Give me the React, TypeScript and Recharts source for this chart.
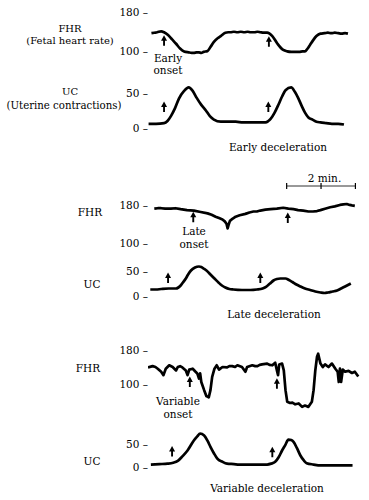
import React from 'react';
import { ComposedChart, Line, Scatter, XAxis, YAxis, ReferenceLine } from 'recharts';

type P = [number, number][];

// time (s) , value  — FHR in bpm, UC in mmHg
const fhrEarly: P = [[6,137],[11,138],[16,139],[23,141],[28,139],[35,133],[42,124],[49,115],[56,105],[63,99],[71,97],[76,96],[80,96],[85,97],[89,97],[93,96],[97,98],[104,100],[109,108],[115,119],[122,127],[127,131],[135,138],[140,139],[144,139],[150,140],[156,139],[162,140],[168,139],[174,140],[179,139],[186,139],[191,140],[196,139],[202,138],[208,138],[217,131],[226,115],[236,102],[243,99],[250,98],[257,98],[264,98],[270,99],[274,99],[278,104],[283,113],[288,122],[294,131],[301,136],[308,137],[314,138],[320,137],[326,138],[332,137],[338,136],[344,137],[349,136]];
const ucEarly: P = [[1,6],[14,6],[28,7],[34,10],[40,17],[47,28],[54,42],[63,53],[71,58],[78,53],[85,43],[93,33],[101,25],[108,17],[115,12],[127,9],[140,9],[153,9],[166,8],[179,8],[192,8],[205,8],[210,10],[214,13],[221,22],[228,34],[234,45],[240,54],[250,58],[256,52],[262,43],[268,32],[274,22],[280,15],[287,12],[294,9],[301,8],[311,7],[321,6],[332,6],[342,5]];
const fhrLate: P = [[11,173],[17,174],[23,174],[30,173],[40,173],[48,174],[57,172],[68,170],[80,169],[92,166],[104,163],[111,160],[118,156],[124,153],[130,150],[134,146],[137,141],[139,131],[141,140],[143,147],[148,152],[153,156],[160,159],[170,162],[177,165],[184,167],[190,167],[196,169],[205,171],[214,172],[225,173],[236,175],[245,173],[254,172],[262,170],[271,169],[280,167],[288,167],[295,168],[301,170],[309,173],[318,176],[326,178],[335,181],[341,182],[347,183],[352,181],[356,180],[361,179]];
const ucLate: P = [[4,13],[14,13],[23,14],[36,15],[49,15],[53,17],[57,21],[61,27],[66,35],[70,43],[75,51],[82,57],[89,59],[93,58],[97,55],[103,50],[109,43],[116,35],[123,27],[129,21],[135,17],[142,14],[149,13],[164,12],[179,12],[190,13],[200,15],[204,17],[208,20],[213,25],[219,31],[225,34],[231,35],[236,35],[240,35],[246,32],[252,28],[259,23],[266,19],[274,15],[283,12],[292,9],[301,7],[308,6],[314,7],[322,9],[330,11],[337,15],[344,19],[349,22],[354,25]];
const fhrVariable: P = [[0,140],[8,143],[13,141],[17,137],[23,130],[27,122],[31,137],[37,145],[43,141],[49,133],[52,141],[56,143],[60,140],[66,133],[69,122],[72,135],[78,137],[83,130],[86,126],[89,114],[91,126],[93,106],[98,87],[102,73],[106,70],[109,87],[112,118],[116,137],[120,145],[124,135],[130,141],[138,140],[142,143],[147,143],[152,141],[156,145],[164,141],[170,130],[173,141],[182,145],[187,143],[191,143],[195,146],[199,147],[208,149],[212,146],[217,145],[222,151],[225,133],[227,122],[229,147],[234,149],[237,133],[240,87],[243,60],[248,57],[252,58],[257,54],[263,56],[269,48],[274,51],[280,48],[286,60],[289,87],[292,133],[295,165],[297,172],[301,149],[305,141],[309,147],[315,141],[321,149],[327,137],[331,130],[333,106],[335,137],[337,106],[340,135],[344,130],[350,132],[356,127],[361,130],[367,119]];
const ucVariable: P = [[5,6],[20,7],[34,8],[44,10],[52,14],[60,24],[69,37],[80,59],[86,68],[91,74],[98,70],[104,58],[109,45],[115,31],[121,19],[130,12],[138,8],[150,7],[159,6],[180,6],[200,6],[208,6],[215,8],[222,12],[228,22],[234,37],[240,50],[245,61],[250,60],[254,56],[260,42],[266,26],[272,15],[277,9],[289,6],[301,4],[320,4],[340,4],[357,4]];

// onset arrows (time, value)
const arrowsEarlyFhr: P = [[28,121],[211,119]];
const arrowsEarlyUc: P = [[28,30],[210,30]];
const arrowsLateFhr: P = [[79,155],[244,153]];
const arrowsLateUc: P = [[35,36],[196,36]];
const arrowsVarFhr: P = [[73,106],[225,102]];
const arrowsVarUc: P = [[42,35],[217,33]];

const fhrTicks = [100, 180];
const ucTicks = [0, 50];
const scaleBarTicks = [242, 302, 362]; // 2 min = 120 s

const FONT = "'DejaVu Serif', serif";
const toRows = (p: P) => p.map(([t, v]) => ({ t, v }));

const Arrow = (props: any) => {
  const { cx, cy } = props;
  if (cx == null || cy == null) return null;
  return (
    <g>
      <line x1={cx} y1={cy + 5} x2={cx} y2={cy - 1.5} stroke="#000" strokeWidth={1.9} />
      <path d={`M${cx - 3},${cy} L${cx},${cy - 5.5} L${cx + 3},${cy} Z`} fill="#000" />
    </g>
  );
};

type TraceProps = {
  top: number;
  height: number;
  domain: [number, number];
  ticks: number[];
  series: P;
  arrows: P;
  curve: 'monotone' | 'linear';
};

function Trace({ top, height, domain, ticks, series, arrows, curve }: TraceProps) {
  return (
    <div style={{ position: 'absolute', left: 0, top, width: 369, height }}>
      <ComposedChart width={369} height={height} margin={{ top: 0, right: 9, bottom: 0, left: 0 }}>
        <XAxis dataKey="t" type="number" domain={[0, 370]} hide allowDataOverflow />
        <YAxis
          type="number"
          domain={domain}
          ticks={ticks}
          interval={0}
          width={148}
          axisLine={false}
          tickLine={false}
          tickSize={0}
          tickMargin={0}
          tickFormatter={(v: number) => `${v} –`}
          tick={{ fill: '#000', fontSize: 10.5, fontFamily: FONT }}
        />
        <Line
          data={toRows(series)}
          dataKey="v"
          type={curve}
          stroke="#000"
          strokeWidth={2.7}
          strokeLinejoin="round"
          dot={false}
          isAnimationActive={false}
        />
        <Scatter data={toRows(arrows)} dataKey="v" shape={(p: any) => <Arrow {...p} />} isAnimationActive={false} />
      </ComposedChart>
    </div>
  );
}

const Label = ({ x, y, children, size = 10.5 }: { x: number; y: number; children: React.ReactNode; size?: number }) => (
  <div
    style={{
      position: 'absolute',
      left: x,
      top: y,
      transform: 'translate(-50%, -50%)',
      whiteSpace: 'nowrap',
      fontFamily: FONT,
      fontSize: size,
      lineHeight: 1,
      color: '#000',
      textAlign: 'center',
    }}
  >
    {children}
  </div>
);

export default function App() {
  return (
    <div style={{ position: 'absolute', left: 0, top: 0, width: 369, height: 500, background: '#fff', overflow: 'hidden' }}>
      <style>{`.recharts-surface{overflow:visible}`}</style>

      {/* Early deceleration */}
      <Trace top={3.1} height={67.1} domain={[60, 200]} ticks={fhrTicks} series={fhrEarly} arrows={arrowsEarlyFhr} curve="monotone" />
      <Trace top={79} height={52.5} domain={[-5, 70]} ticks={ucTicks} series={ucEarly} arrows={arrowsEarlyUc} curve="monotone" />
      <Label x={70} y={29} size={10}>FHR</Label>
      <Label x={70} y={40.5} size={10}>(Fetal heart rate)</Label>
      <Label x={168} y={57.5}>Early</Label>
      <Label x={168} y={70}>onset</Label>
      <Label x={70} y={91.5} size={10}>UC</Label>
      <Label x={64} y={106} size={10.2}>(Uterine contractions)</Label>
      <Label x={278} y={147}>Early deceleration</Label>

      {/* 2 min scale bar */}
      <div style={{ position: 'absolute', left: 0, top: 183, width: 369, height: 6 }}>
        <ComposedChart width={369} height={6} margin={{ top: 0, right: 9, bottom: 0, left: 148 }}>
          <XAxis dataKey="t" type="number" domain={[0, 370]} hide />
          <YAxis type="number" domain={[-1, 1]} hide />
          <Line
            data={[{ t: scaleBarTicks[0], v: 0 }, { t: scaleBarTicks[2], v: 0 }]}
            dataKey="v"
            stroke="#333"
            strokeWidth={1}
            dot={false}
            isAnimationActive={false}
          />
          {scaleBarTicks.map((t) => (
            <ReferenceLine key={t} x={t} stroke="#000" strokeWidth={1.2} />
          ))}
        </ComposedChart>
      </div>
      <Label x={324.5} y={177.5}>2 min.</Label>

      {/* Late deceleration */}
      <Trace top={196.3} height={56.4} domain={[80, 200]} ticks={fhrTicks} series={fhrLate} arrows={arrowsLateFhr} curve="linear" />
      <Trace top={260.7} height={40} domain={[-10, 70]} ticks={ucTicks} series={ucLate} arrows={arrowsLateUc} curve="monotone" />
      <Label x={90} y={212}>FHR</Label>
      <Label x={194} y={231}>Late</Label>
      <Label x={194} y={244}>onset</Label>
      <Label x={92} y={283.5}>UC</Label>
      <Label x={274} y={313.5}>Late deceleration</Label>

      {/* Variable deceleration */}
      <Trace top={345.7} height={64.3} domain={[40, 190]} ticks={fhrTicks} series={fhrVariable} arrows={arrowsVarFhr} curve="linear" />
      <Trace top={430.7} height={40.8} domain={[-10, 80]} ticks={ucTicks} series={ucVariable} arrows={arrowsVarUc} curve="monotone" />
      <Label x={88} y={368}>FHR</Label>
      <Label x={178} y={401}>Variable</Label>
      <Label x={178} y={414}>onset</Label>
      <Label x={92} y={461}>UC</Label>
      <Label x={267} y={487.5}>Variable deceleration</Label>
    </div>
  );
}
